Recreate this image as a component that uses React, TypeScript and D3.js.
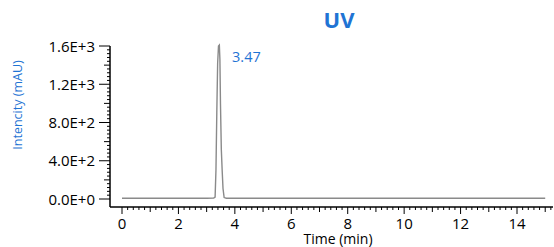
import React from "react";
import * as d3 from "d3";

const times = [0, 1.5, 3.0, 3.25, 3.3, 3.33, 3.36, 3.39, 3.42, 3.45, 3.47, 3.49, 3.52, 3.55, 3.58, 3.62, 3.7, 5, 8, 11, 15];
const values = [8, 8, 8, 9, 20, 300, 900, 1420, 1600, 1610, 1460, 1000, 520, 300, 110, 15, 8, 8, 8, 8, 8];
const yTicks = [0, 400, 800, 1200, 1600];
const yTickLabels = ["0.0E+0", "4.0E+2", "8.0E+2", "1.2E+3", "1.6E+3"];
const xTicks = [0, 2, 4, 6, 8, 10, 12, 14];
const peakLabel = "3.47";
const peakLabelTime = 3.9;
const peakLabelValue = 1480;

const W = 554, H = 247;
const BLUE = "#1f74d4";
const FONT = "'Open Sans', 'Liberation Sans', Arial, sans-serif";

export default function App() {
  const x = d3.scaleLinear().domain([0, 14]).range([122, 517]);
  const y = d3.scaleLinear().domain([0, 1600]).range([199, 46]);
  const axisLeft = 110;
  const axisBottom = 207;
  const xEnd = 553;
  const pts = times.map((t, i) => [t, values[i]] as [number, number]);
  const line = d3.line<[number, number]>().x(d => x(d[0])).y(d => y(d[1]));

  const yMinor = d3.range(0, 1601, 40);
  const xMinor = d3.range(0, x.invert(xEnd) + 0.001, 0.2);

  return (
    <svg width={W} height={H} style={{ position: "absolute", left: 0, top: 0 }}>
      <rect width={W} height={H} fill="#fff" />
      <text x={339} y={28} textAnchor="middle" fontFamily={FONT} fontWeight="bold" fontSize={22} fill={BLUE}>UV</text>
      <text transform={`translate(22,105) rotate(-90)`} textAnchor="middle" fontFamily={FONT} fontSize={12.5} fill={BLUE}>Intencity (mAU)</text>
      {/* y axis */}
      <line x1={axisLeft} x2={axisLeft} y1={y(1600)} y2={axisBottom} stroke="#000" strokeWidth={1.5} />
      {yMinor.map((v, i) => {
        const major = v % 400 === 0;
        const med = !major && v % 200 === 0;
        const len = major ? 11 : med ? 6 : 3;
        return <line key={"ym" + i} x1={axisLeft - len} x2={axisLeft} y1={y(v)} y2={y(v)} stroke="#000" strokeWidth={1} />;
      })}
      {yTicks.map((v, i) => (
        <text key={"yl" + i} x={95} y={y(v) + 5.5} textAnchor="end" fontFamily={FONT} fontSize={15} fill="#000">{yTickLabels[i]}</text>
      ))}
      {/* x axis */}
      <line x1={axisLeft} x2={xEnd} y1={axisBottom} y2={axisBottom} stroke="#000" strokeWidth={1.5} />
      {xMinor.map((t, i) => {
        const r = Math.round(t * 5) / 5;
        const major = Math.abs(r % 2) < 1e-6;
        const med = !major && Math.abs(r % 1) < 1e-6;
        const len = major ? 7 : med ? 5 : 3;
        return <line key={"xm" + i} x1={x(r)} x2={x(r)} y1={axisBottom} y2={axisBottom + len} stroke="#000" strokeWidth={1} />;
      })}
      {xTicks.map((t, i) => (
        <text key={"xl" + i} x={x(t)} y={228.5} textAnchor="middle" fontFamily={FONT} fontSize={15} fill="#000">{t}</text>
      ))}
      <text x={338} y={244} textAnchor="middle" fontFamily={FONT} fontSize={14} fill="#000">Time (min)</text>
      {/* trace */}
      <path d={line(pts) || ""} fill="none" stroke="#8a8a8a" strokeWidth={1.4} />
      <text x={x(peakLabelTime)} y={y(peakLabelValue) + 5} fontFamily={FONT} fontSize={14.5} fill={BLUE}>{peakLabel}</text>
    </svg>
  );
}
